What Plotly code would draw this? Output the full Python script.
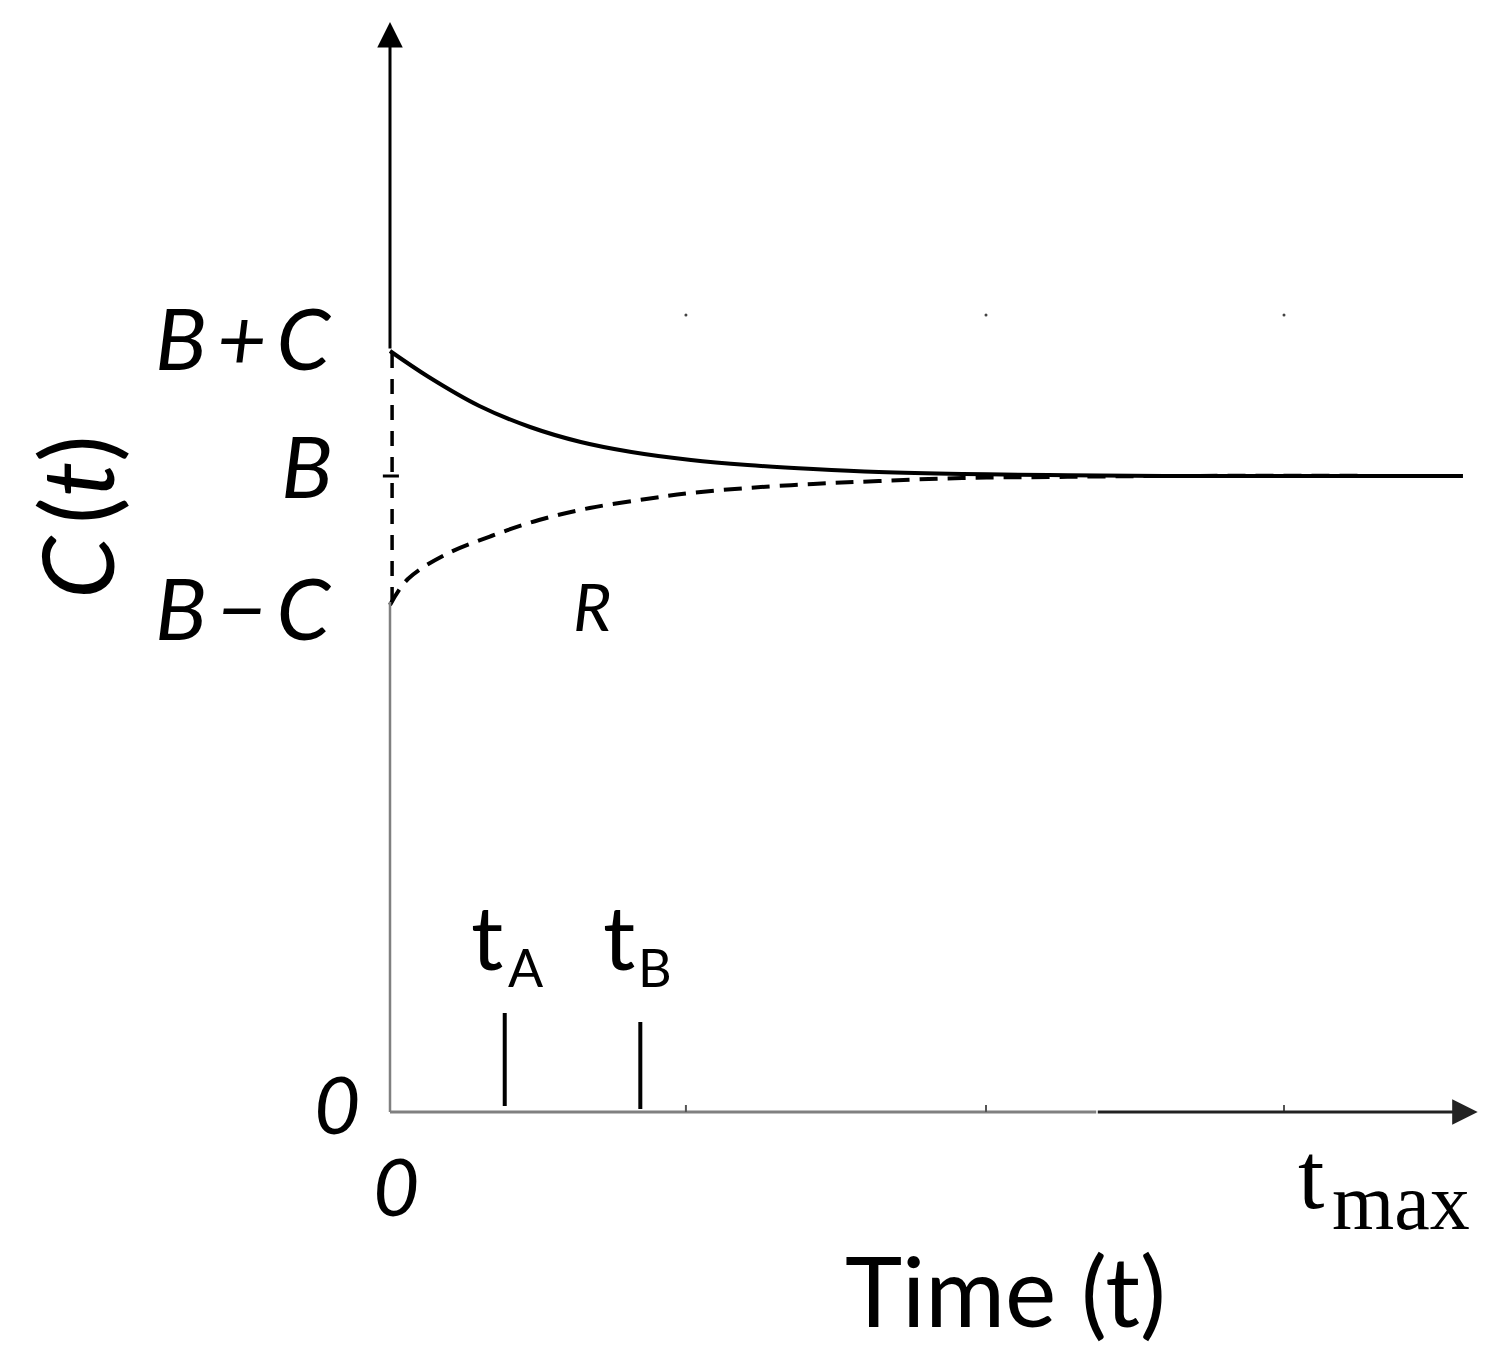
import plotly.graph_objects as go

# ---- data ----
B = 6.36
C = 1.26
t_solid = [0.0, 0.13, 0.30, 0.47, 0.64, 0.81, 1.01, 1.20, 1.42, 1.64, 1.92, 2.21, 2.60, 3.60]
c_solid = [7.61, 7.35, 7.06, 6.85, 6.70, 6.60, 6.52, 6.47, 6.43, 6.40, 6.38, 6.37, 6.36, 6.36]
t_dashed = [0.0, 0.06, 0.19, 0.34, 0.50, 0.67, 0.86, 1.01, 1.20, 1.42, 1.64, 1.92, 2.21, 2.60, 3.60]
c_dashed = [5.07, 5.33, 5.58, 5.76, 5.92, 6.04, 6.13, 6.19, 6.24, 6.28, 6.31, 6.34, 6.35, 6.36, 6.36]
t_A = 0.385
t_B = 0.84
minor_ticks = [0.993, 2.0, 3.0]
y_top = 10.9
x_end = 3.65
x_dark_start = 2.37

FONT = "Lato"
TS = "\u2009"  # thin space

fig = go.Figure()
fig.add_trace(go.Scatter(x=t_solid, y=c_solid, mode="lines",
                         line=dict(color="black", width=4, shape="spline", smoothing=1.0),
                         hoverinfo="skip", showlegend=False))
fig.add_trace(go.Scatter(x=t_dashed, y=c_dashed, mode="lines",
                         line=dict(color="black", width=4, shape="spline", smoothing=1.0, dash="18px,10px"),
                         hoverinfo="skip", showlegend=False))
# tiny marks above plot
fig.add_trace(go.Scatter(x=minor_ticks, y=[B + C + 0.35] * 3, mode="markers",
                         marker=dict(color="#444", size=3), hoverinfo="skip", showlegend=False))

shapes = []
shapes.append(dict(type="line", xref="x", yref="y", x0=0, x1=0, y0=0, y1=B - C,
                   line=dict(color="#808080", width=2.5)))
shapes.append(dict(type="line", xref="x", yref="y", x0=0.007, x1=0.007, y0=B - C, y1=B + C,
                   line=dict(color="black", width=3.5, dash="15px,11px")))
shapes.append(dict(type="line", xref="x", yref="y", x0=-0.024, x1=0.03, y0=B, y1=B,
                   line=dict(color="black", width=3)))
shapes.append(dict(type="line", xref="x", yref="y", x0=0, x1=x_dark_start, y0=0, y1=0,
                   line=dict(color="#808080", width=3)))
for m in minor_ticks:
    shapes.append(dict(type="line", xref="x", yref="y", x0=m, x1=m, y0=0, y1=0.07,
                       line=dict(color="#555", width=2)))
shapes.append(dict(type="line", xref="x", yref="y", x0=t_A, x1=t_A, y0=0.06, y1=0.99,
                   line=dict(color="black", width=4)))
shapes.append(dict(type="line", xref="x", yref="y", x0=t_B, x1=t_B, y0=0.03, y1=0.90,
                   line=dict(color="black", width=4)))

ann = []
ann.append(dict(x=0, y=y_top, ax=0, ay=B + C, xref="x", yref="y", axref="x", ayref="y",
                showarrow=True, arrowhead=2, arrowsize=1.7, arrowwidth=3, arrowcolor="black", text=""))
ann.append(dict(x=x_end, y=0, ax=x_dark_start, ay=0, xref="x", yref="y", axref="x", ayref="y",
                showarrow=True, arrowhead=2, arrowsize=1.7, arrowwidth=3, arrowcolor="#222", text=""))

def label(x, y, text, size=72, family=FONT, **kw):
    d = dict(x=x, y=y, xref="x", yref="y", text=text, showarrow=False,
             font=dict(family=family, size=size, color="black"))
    d.update(kw)
    ann.append(d)

label(-0.19, 7.76, "<i>B" + TS + "+" + TS + "C</i>", size=86, xanchor="right")
label(-0.185, 6.48, "<i>B</i>", size=86, xanchor="right")
label(-0.19, 5.06, "<i>B" + TS + "−" + TS + "C</i>", size=86, xanchor="right")
label(-0.094, 0.09, "<i>0</i>", size=80, xanchor="right")
label(0.02, -0.73, "<i>0</i>", size=80)
label(-1.057, 5.95, "<i>C</i>" + TS + "(<i>t</i>)", size=100, textangle=-90)
label(0.681, 5.07, "<i>R</i>", size=66)
# tA / tB labels
label(t_A - 0.06, 1.77, "t", size=90)
label(t_A + 0.07, 1.45, "A", size=52)
label(t_B - 0.07, 1.77, "t", size=90)
label(t_B + 0.05, 1.45, "B", size=52)
# t_max
label(3.089, -0.64, "t", size=95, family="Liberation Serif")
label(3.393, -0.90, "max", size=80, family="Liberation Serif")
label(2.067, -1.77, "Time (t)", size=97)

# page body has an 8px margin; shift ranges so page positions line up
OFF = 8
fig.update_layout(
    width=1497, height=1372,
    margin=dict(l=0, r=0, t=0, b=0),
    paper_bgcolor="white", plot_bgcolor="white",
    xaxis=dict(range=[-(390 - OFF) / 298, (1497 - 390 + OFF) / 298], visible=False, fixedrange=True),
    yaxis=dict(range=[(1112 - OFF - 1372) / 100, (1112 - OFF) / 100], visible=False, fixedrange=True),
    shapes=shapes, annotations=ann, showlegend=False,
)

fig.write_html("out.html")
